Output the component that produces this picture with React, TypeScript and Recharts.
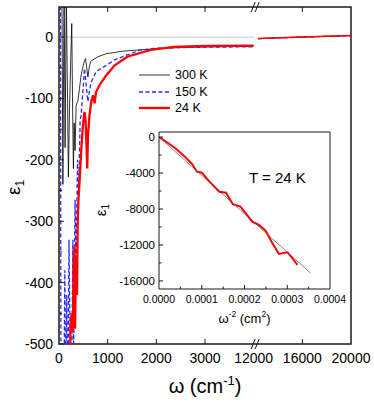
import React from "react";
import { LineChart, Line, XAxis, YAxis, Legend, ReferenceLine, ReferenceArea } from "recharts";

const FONT = '"Liberation Sans", Arial, Helvetica, sans-serif';
const INK = "#1a1a1a";

// eps1 against wavenumber (cm-1), low-frequency side of the axis break
const eps300K: [number, number][] = [
  [20, 400], [55, 150], [80, -240], [105, 90], [125, -180], [150, 70], [175, -100],
  [193, -228], [215, -120], [240, -40], [262, 22], [280, -120], [296, -214], [312, -140],
  [330, -185], [352, -111], [385, -105], [420, -84], [455, -62], [491, -48], [520, -40],
  [545, -35], [570, -50], [594, -65], [620, -50], [648, -40], [698, -37], [801, -32],
  [973, -27], [1145, -25], [1300, -23], [1640, -21], [2000, -19], [2500, -17],
  [3000, -16], [3500, -15.5], [4000, -15],
];
const eps150K: [number, number][] = [
  [25, 400], [42, -700], [70, -560], [95, -640], [120, -380], [140, -600], [160, -420],
  [180, -640], [205, -330], [225, -470], [250, -650], [285, -330], [300, -520],
  [330, -265], [350, -380], [380, -200], [400, -260], [435, -135], [455, -127],
  [490, -90], [524, -51], [555, -75], [594, -105], [630, -85], [663, -73], [766, -56],
  [973, -46], [1145, -37], [1402, -29], [1677, -21], [2000, -18], [2500, -17],
  [3000, -16.5], [4000, -15.8],
];
const eps24K: [number, number][] = [
  [215, -800], [235, -470], [260, -450], [285, -480], [300, -380], [318, -340],
  [331, -475], [345, -360], [370, -420], [385, -300], [400, -265], [430, -225],
  [460, -180], [490, -145], [510, -130], [524, -122], [545, -135], [565, -175],
  [580, -214], [595, -160], [627, -127], [663, -105], [700, -95], [731, -108],
  [760, -90], [834, -78], [973, -62], [1145, -46], [1402, -32], [1884, -21],
  [2366, -16], [3000, -14.5], [4000, -14],
];

// high-frequency side of the break
const eps300KHigh: [number, number][] = [[12350, -2.5], [14000, -1.3], [16000, 0], [18000, 1.2], [20000, 2.4]];
const eps150KHigh: [number, number][] = [[12350, -2.6], [14000, -1.4], [16000, -0.1], [18000, 1.1], [20000, 2.3]];
const eps24KHigh: [number, number][] = [[12350, -2.4], [14000, -1.2], [16000, 0.1], [18000, 1.3], [20000, 2.5]];

// inset: eps1 at 24 K against omega^-2 (cm^2) and the straight-line fit
const insetOmega2 = [
  0, 1.41e-5, 3.76e-5, 6.12e-5, 7.76e-5, 8.87e-5, 1.005e-4, 1.17e-4, 1.412e-4, 1.569e-4,
  1.725e-4, 1.906e-4, 2.181e-4, 2.336e-4, 2.494e-4, 2.652e-4, 2.807e-4, 3.005e-4, 3.24e-4,
];
const insetEps = [
  0, -444, -1222, -2222, -3000, -3855, -3967, -4900, -6078, -6189,
  -7478, -7744, -9411, -9778, -10411, -11811, -13000, -12811, -14222,
];
const insetFit: [number, number][] = [[0, 0], [0.000355, -15150]];

const legendLabels = ["300 K", "150 K", "24 K"];

const xTickValues = [0, 1000, 2000, 3000, 12000, 16000, 20000];
const yTicks = [-500, -450, -400, -350, -300, -250, -200, -150, -100, -50, 0];
const insetXTicks = [0, 0.00005, 0.0001, 0.00015, 0.0002, 0.00025, 0.0003, 0.00035, 0.0004];
const insetYTicks = [-16000, -14000, -12000, -10000, -8000, -6000, -4000, -2000, 0];

const Y_MIN = -500;
const Y_MAX = 49;
const INSET_X_MAX = 0.0004;
const INSET_Y: [number, number] = [-16900, 560];

// broken x axis: 0-4000 then 12000-20000 squeezed by 4
const BREAK_LO = 4000;
const BREAK_HI = 12000;
const HIGH_SQUEEZE = 4;
const toAxis = (w: number) => (w <= BREAK_LO ? w : BREAK_LO + (w - BREAK_HI) / HIGH_SQUEEZE);
const X_MAX = toAxis(20000);
const xTickPos = xTickValues.map(toAxis);
const toRows = (pts: [number, number][]) => pts.map(([w, e]) => ({ t: toAxis(w), e }));

const seriesStyle: Record<string, any> = {
  "300 K": { stroke: "#000", strokeWidth: 0.8 },
  "150 K": { stroke: "#2a2aff", strokeWidth: 1.3, strokeDasharray: "4 2.5" },
  "24 K": { stroke: "#ff0000", strokeWidth: 2.3 },
};

const series = [
  { label: "300 K", low: eps300K, high: eps300KHigh },
  { label: "150 K", low: eps150K, high: eps150KHigh },
  { label: "24 K", low: eps24K, high: eps24KHigh },
];

const insetRows = insetOmega2.map((x, i) => ({ x, y: insetEps[i] }));
const fitRows = insetFit.map(([x, y]) => ({ x, y }));

const BreakMark = ({ x, y }: { x: number; y: number }) => (
  <g stroke={INK} strokeWidth={1}>
    <line x1={x - 2.5} y1={y + 5} x2={x + 1.5} y2={y - 5} />
    <line x1={x + 1.5} y1={y + 5} x2={x + 5.5} y2={y - 5} />
  </g>
);

const MainXTick = (props: any) => {
  const { x, y, payload } = props;
  const w = xTickValues[xTickPos.indexOf(payload.value)];
  return (
    <g>
      {w === BREAK_HI ? (
        <BreakMark x={x} y={y} />
      ) : w > 0 && w < 20000 ? (
        <line x1={x} x2={x} y1={y} y2={y - 5} stroke={INK} strokeWidth={1} />
      ) : null}
      <text x={x} y={y + 19} textAnchor="middle" fontSize={14} fontFamily={FONT} fill="#000">
        {w}
      </text>
    </g>
  );
};

const TopXTick = (props: any) => {
  const { x, y, payload } = props;
  const w = xTickValues[xTickPos.indexOf(payload.value)];
  if (w === BREAK_HI) return <BreakMark x={x} y={y} />;
  if (w > 0 && w < 20000) return <line x1={x} x2={x} y1={y} y2={y + 5} stroke={INK} strokeWidth={1} />;
  return <g />;
};

const MainYTick = (props: any) => {
  const { x, y, payload } = props;
  const v = payload.value;
  const major = v % 100 === 0;
  return (
    <g>
      <line x1={x} x2={x + (major ? 5 : 3)} y1={y} y2={y} stroke={INK} strokeWidth={1} />
      {major && (
        <text x={x - 6} y={y + 5} textAnchor="end" fontSize={14} fontFamily={FONT} fill="#000">
          {v}
        </text>
      )}
    </g>
  );
};

const MainYLabel = (props: any) => {
  const { viewBox } = props;
  const cx = viewBox.x + 20;
  const cy = viewBox.y + viewBox.height * 0.535;
  return (
    <text x={cx} y={cy} transform={`rotate(-90 ${cx} ${cy})`} textAnchor="middle" fontSize={19} fontFamily={FONT} fill="#000">
      ε<tspan fontSize={12} dy={4}>1</tspan>
    </text>
  );
};

const MainXLabel = (props: any) => {
  const { viewBox } = props;
  return (
    <text x={viewBox.x + viewBox.width / 2} y={viewBox.y + 49} textAnchor="middle" fontSize={20} fontFamily={FONT} fill="#000">
      ω (cm<tspan fontSize={13} dy={-8}>-1</tspan>
      <tspan dy={8}>)</tspan>
    </text>
  );
};

const InsetXTick = (props: any) => {
  const { x, y, payload } = props;
  const v = payload.value;
  const major = Math.round(v * 1e5) % 10 === 0;
  return (
    <g>
      {v > 0 && v < INSET_X_MAX && (
        <line x1={x} x2={x} y1={y} y2={y - (major ? 4 : 2.5)} stroke={INK} strokeWidth={1} />
      )}
      {major && (
        <text x={x} y={y + 14} textAnchor="middle" fontSize={10.5} fontFamily={FONT} fill="#000">
          {v.toFixed(4)}
        </text>
      )}
    </g>
  );
};

const InsetYTick = (props: any) => {
  const { x, y, payload } = props;
  const v = payload.value;
  const major = v % 4000 === 0;
  return (
    <g>
      <line x1={x} x2={x + (major ? 4 : 2.5)} y1={y} y2={y} stroke={INK} strokeWidth={1} />
      {major && (
        <text x={x - 4} y={y + 4} textAnchor="end" fontSize={11.5} fontFamily={FONT} fill="#000">
          {v}
        </text>
      )}
    </g>
  );
};

const InsetYLabel = (props: any) => {
  const { viewBox } = props;
  const cx = viewBox.x + 31;
  const cy = viewBox.y + 78;
  return (
    <text x={cx} y={cy} transform={`rotate(-90 ${cx} ${cy})`} textAnchor="middle" fontSize={15} fontFamily={FONT} fill="#000">
      ε<tspan fontSize={10} dy={3}>1</tspan>
    </text>
  );
};

const InsetXLabel = (props: any) => {
  const { viewBox } = props;
  return (
    <text x={viewBox.x + viewBox.width / 2} y={viewBox.y + 34} textAnchor="middle" fontSize={13} fontFamily={FONT} fill="#000">
      ω<tspan fontSize={8.5} dy={-6}>-2</tspan>
      <tspan dy={6}> (cm</tspan>
      <tspan fontSize={8.5} dy={-6}>2</tspan>
      <tspan dy={6}>)</tspan>
    </text>
  );
};

const renderLegend = () => (
  <div style={{ fontFamily: FONT, fontSize: 12.5, color: "#000" }}>
    {legendLabels.map((lab) => {
      const s = seriesStyle[lab];
      return (
        <div key={lab} style={{ display: "flex", alignItems: "center", height: 16.5 }}>
          <svg width={32} height={6}>
            <line x1={0} x2={31} y1={3} y2={3} stroke={s.stroke} strokeWidth={s.strokeWidth} strokeDasharray={s.strokeDasharray} />
          </svg>
          <span style={{ marginLeft: 4, lineHeight: "14px" }}>{lab}</span>
        </div>
      );
    })}
  </div>
);

export default function App() {
  return (
    <div style={{ position: "absolute", left: 0, top: 0, width: 374, height: 403, background: "#fff" }}>
      <LineChart width={374} height={403} margin={{ top: 6, right: 23, bottom: 0, left: 0 }}>
        <XAxis
          type="number"
          dataKey="t"
          domain={[0, X_MAX]}
          ticks={xTickPos}
          interval={0}
          allowDataOverflow
          tick={MainXTick}
          tickLine={false}
          axisLine={false}
          tickSize={0}
          tickMargin={0}
          height={59}
          label={MainXLabel}
        />
        <XAxis
          xAxisId="top"
          orientation="top"
          type="number"
          dataKey="t"
          domain={[0, X_MAX]}
          ticks={xTickPos}
          interval={0}
          allowDataOverflow
          tick={TopXTick}
          tickLine={false}
          axisLine={false}
          tickSize={0}
          tickMargin={0}
          height={1}
        />
        <YAxis
          type="number"
          domain={[Y_MIN, Y_MAX]}
          ticks={yTicks}
          interval={0}
          allowDataOverflow
          tick={MainYTick}
          tickLine={false}
          axisLine={false}
          tickSize={0}
          tickMargin={0}
          width={59}
          label={MainYLabel}
        />
        <ReferenceLine segment={[{ x: 0, y: 0 }, { x: BREAK_LO, y: 0 }]} stroke="#b0b0b0" strokeWidth={0.7} />
        {series.map((s) => (
          <Line
            key={s.label}
            data={toRows(s.low)}
            dataKey="e"
            name={s.label}
            dot={false}
            activeDot={false}
            isAnimationActive={false}
            {...seriesStyle[s.label]}
          />
        ))}
        {series.map((s) => (
          <Line
            key={s.label + "-high"}
            data={toRows(s.high)}
            dataKey="e"
            legendType="none"
            dot={false}
            activeDot={false}
            isAnimationActive={false}
            {...seriesStyle[s.label]}
            strokeWidth={Math.min(seriesStyle[s.label].strokeWidth, 1.6)}
          />
        ))}
        <ReferenceArea x1={0} x2={X_MAX} y1={Y_MIN} y2={Y_MAX} fill="none" fillOpacity={0} stroke={INK} strokeWidth={1.5} />
        <Legend
          layout="vertical"
          align="center"
          verticalAlign="middle"
          content={renderLegend}
          wrapperStyle={{ left: 139, top: 67, width: 100, height: 50 }}
        />
      </LineChart>

      <div style={{ position: "absolute", left: 75, top: 128 }}>
        <LineChart width={275} height={205} margin={{ top: 4, right: 20, bottom: 0, left: 0 }}>
          <XAxis
            type="number"
            dataKey="x"
            domain={[0, INSET_X_MAX]}
            ticks={insetXTicks}
            interval={0}
            allowDataOverflow
            tick={InsetXTick}
            tickLine={false}
            axisLine={false}
            tickSize={0}
            tickMargin={0}
            height={44}
            label={InsetXLabel}
          />
          <YAxis
            type="number"
            domain={INSET_Y}
            ticks={insetYTicks}
            interval={0}
            allowDataOverflow
            tick={InsetYTick}
            tickLine={false}
            axisLine={false}
            tickSize={0}
            tickMargin={0}
            width={84}
            label={InsetYLabel}
          />
          <Line data={insetRows} dataKey="y" stroke="#ff0000" strokeWidth={2} dot={false} activeDot={false} isAnimationActive={false} />
          <Line data={fitRows} dataKey="y" stroke="#555" strokeWidth={0.7} dot={false} activeDot={false} isAnimationActive={false} />
          <ReferenceArea x1={0} x2={INSET_X_MAX} y1={INSET_Y[0]} y2={INSET_Y[1]} fill="none" fillOpacity={0} stroke={INK} strokeWidth={1} />
        </LineChart>
      </div>

      <div
        style={{
          position: "absolute",
          left: 249,
          top: 170,
          fontFamily: FONT,
          fontSize: 15,
          lineHeight: "15px",
          color: "#000",
          whiteSpace: "nowrap",
        }}
      >
        T = 24 K
      </div>
    </div>
  );
}
